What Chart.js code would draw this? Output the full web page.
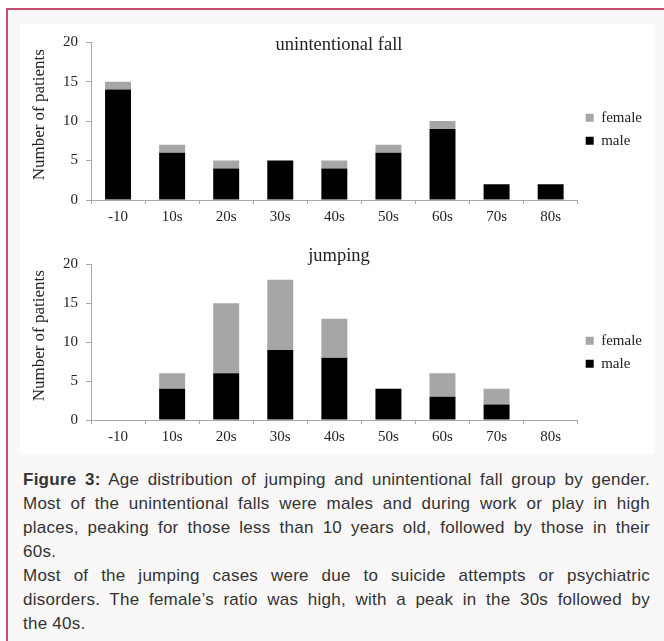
<!DOCTYPE html>
<html>
<head>
<meta charset="utf-8">
<script src="https://cdn.jsdelivr.net/npm/chart.js@4.4.1/dist/chart.umd.min.js"></script>
<style>
  html, body { margin: 0; padding: 0; background: #fff; }
  body { width: 664px; height: 641px; position: relative; overflow: hidden; }
  .frame {
    position: absolute; left: 6px; top: 8px; width: 700px; height: 700px;
    border-top: 2px solid #c44d6d; border-left: 2px solid #c44d6d;
    background: #f9f7f8;
  }
  .panel { position: absolute; left: 20px; top: 24px; width: 635px; height: 430px; background: #fff; }
  .box { position: absolute; left: 20px; width: 635px; }
  .caption {
    position: absolute; left: 23px; top: 468px; width: 627px;
    font-family: "Liberation Sans", Arial, sans-serif; font-size: 17px; line-height: 24px; color: #333;
    letter-spacing: 0.25px;
  }
  .caption div { white-space: nowrap; }
  .caption .j { text-align: justify; text-align-last: justify; white-space: normal; }
</style>
</head>
<body>
<div class="frame"></div>
<div class="panel"></div>
<div class="box" style="top:24px;height:201px"><canvas id="fallChart"></canvas></div>
<div class="box" style="top:225px;height:229px"><canvas id="jumpChart"></canvas></div>
<div class="caption">
  <div class="j"><b>Figure 3:</b> Age distribution of jumping and unintentional fall group by gender.</div>
  <div class="j">Most of the unintentional falls were males and during work or play in high</div>
  <div class="j">places, peaking for those less than 10 years old, followed by those in their</div>
  <div>60s.</div>
  <div class="j">Most of the jumping cases were due to suicide attempts or psychiatric</div>
  <div class="j">disorders. The female’s ratio was high, with a peak in the 30s followed by</div>
  <div>the 40s.</div>
</div>
<script>
"use strict";

// age groups + counts
const ageGroups = ["-10", "10s", "20s", "30s", "40s", "50s", "60s", "70s", "80s"];
const fallMale = [14, 6, 4, 5, 4, 6, 9, 2, 2];
const fallFemale = [1, 1, 1, 0, 1, 1, 1, 0, 0];
const jumpMale = [0, 4, 6, 9, 8, 4, 3, 2, 0];
const jumpFemale = [0, 2, 9, 9, 5, 0, 3, 2, 0];
const yTicks = [0, 5, 10, 15, 20];

const SERIF = "'Liberation Serif', 'Times New Roman', serif";
const TXT = "#222";
const AXIS = "#a8a8a8";
// leading nbsp's push the rotated axis title up a little, like the original
const Y_TITLE = "\u00a0\u00a0\u00a0Number of patients";

function makeChart(id, title, male, female, lay) {
  const ctx = document.getElementById(id).getContext("2d");
  return new Chart(ctx, {
    type: "bar",
    data: {
      labels: ageGroups,
      datasets: [
        { label: "male", data: male, backgroundColor: "#000", borderWidth: 0 },
        { label: "female", data: female, backgroundColor: "#a6a6a6", borderWidth: 0 },
      ],
    },
    options: {
      responsive: true,
      maintainAspectRatio: false,
      animation: false,
      layout: { padding: { left: 6, right: 3, top: 0, bottom: 0 } },
      datasets: { bar: { categoryPercentage: 1, barPercentage: 0.48 } },
      plugins: {
        tooltip: { enabled: false },
        title: {
          display: true,
          text: title,
          color: TXT,
          font: { family: SERIF, size: 18.5, weight: "normal" },
          padding: { top: lay.titleTop, bottom: lay.titleBottom },
        },
        legend: {
          position: "right",
          reverse: true,
          // empty title only used to nudge the items down a bit
          title: { display: true, text: " ", font: { size: 8 }, padding: { top: lay.legendShift, bottom: 0 } },
          labels: {
            boxWidth: 8,
            boxHeight: 8,
            padding: 8,
            color: TXT,
            font: { family: SERIF, size: 15 },
          },
        },
      },
      scales: {
        x: {
          stacked: true,
          offset: true,
          afterFit: (s) => { s.height = lay.xHeight; },
          grid: { offset: true, drawOnChartArea: false, tickLength: 4, color: AXIS },
          border: { color: AXIS },
          ticks: { color: TXT, padding: 4, font: { family: SERIF, size: 15 } },
        },
        y: {
          stacked: true,
          min: 0,
          max: 20,
          afterFit: (s) => { s.width = 65; },
          afterBuildTicks: (s) => { s.ticks = yTicks.map((v) => ({ value: v })); },
          grid: { drawOnChartArea: false, tickLength: 5, color: AXIS },
          border: { color: AXIS },
          ticks: { color: TXT, padding: 8, font: { family: SERIF, size: 15 } },
          title: {
            display: true,
            text: Y_TITLE,
            color: TXT,
            font: { family: SERIF, size: 17 },
            padding: { top: 3, bottom: 4 },
          },
        },
      },
    },
  });
}

makeChart("fallChart", "unintentional fall", fallMale, fallFemale,
  { titleTop: 10, titleBottom: -14, xHeight: 25, legendShift: 0 });
makeChart("jumpChart", "jumping", jumpMale, jumpFemale,
  { titleTop: 20, titleBottom: -3, xHeight: 34, legendShift: 16 });
</script>
</body>
</html>
